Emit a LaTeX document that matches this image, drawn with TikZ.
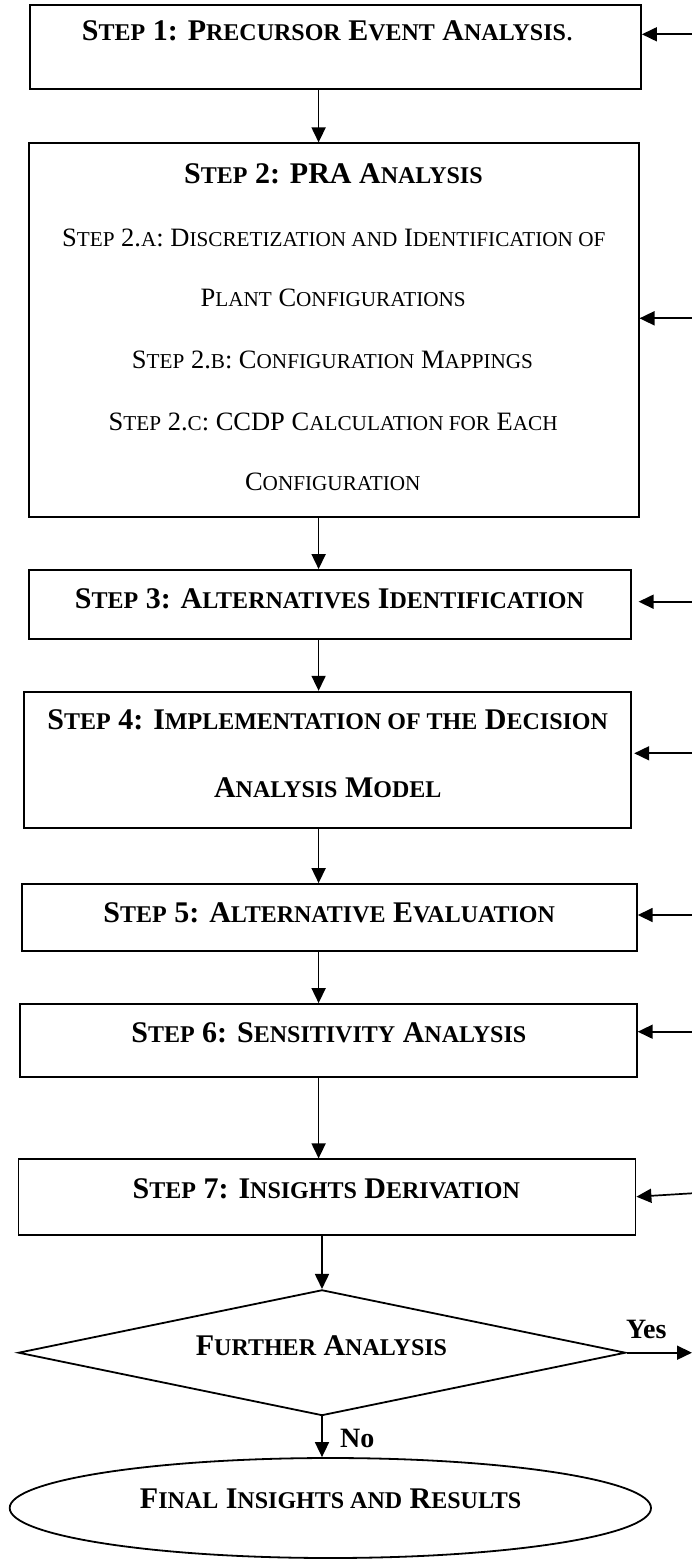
\documentclass[tikz,border=0pt]{standalone}
\usepackage{fontspec}
\setmainfont{Liberation Serif}
\usetikzlibrary{shapes.geometric,arrows.meta}
\newcommand\BF{\fontsize{30}{36}\selectfont\bfseries}
\newcommand\RF{\fontsize{26.5}{32}\selectfont\mdseries}
\newcommand\bs[1]{{\fontsize{24}{28}\selectfont #1}}
\newcommand\rs[1]{{\fontsize{21.2}{26}\selectfont #1}}
\tikzset{
  box/.style={draw, line width=1.8pt, rectangle, inner sep=0pt},
  txt/.style={anchor=base, inner sep=0pt},
  arr/.style={line width=1.7pt, -{Triangle[length=15pt,width=14pt]}},
}
\begin{document}
\begin{tikzpicture}[x=1pt,y=-1pt]
\useasboundingbox (0,0) rectangle (692,1559);
% boxes
\node[box, minimum width=611pt, minimum height=84.3pt] (b1) at (335.5,47.15) {};
\node[box, minimum width=609.9pt, minimum height=373.4pt] (b2) at (333.65,330) {};
\node[box, minimum width=602.3pt, minimum height=69.3pt] (b3) at (329.85,604.65) {};
\node[box, minimum width=606.7pt, minimum height=136pt] (b4) at (327.65,759.7) {};
\node[box, minimum width=614.8pt, minimum height=67.3pt] (b5) at (329.4,917.65) {};
\node[box, minimum width=616.9pt, minimum height=73.3pt] (b6) at (328.35,1040.65) {};
\node[box, minimum width=617pt, minimum height=75.7pt] (b7) at (327,1197.15) {};
\node[draw, line width=1.8pt, shape=diamond, inner sep=0pt, minimum width=607.3pt, minimum height=125.7pt] (d) at (322,1352.7) {};
\node[draw, line width=1.8pt, shape=ellipse, inner sep=0pt, minimum width=641.3pt, minimum height=100pt] (el) at (330.35,1508) {};
% texts
\node[txt] (t1) at (327.7,40.8) {\BF S\bs{TEP} 1: P\bs{RECURSOR} E\bs{VENT} A\bs{NALYSIS}{\mdseries.}};
\node[txt] (t2) at (333.4,183.3) {\BF S\bs{TEP} 2: PRA A\bs{NALYSIS}};
\node[txt] (t2a) at (333.8,246.7) {\RF S\rs{TEP} 2.\rs{A}: D\rs{ISCRETIZATION AND} I\rs{DENTIFICATION OF}};
\node[txt] (t2a2) at (333.2,306.7) {\RF P\rs{LANT} C\rs{ONFIGURATIONS}};
\node[txt] (t2b) at (332.5,368.3) {\RF S\rs{TEP} 2.\rs{B}: C\rs{ONFIGURATION} M\rs{APPINGS}};
\node[txt] (t2c) at (333.2,430) {\RF S\rs{TEP} 2.\rs{C}: CCDP C\rs{ALCULATION FOR} E\rs{ACH}};
\node[txt] (t2c2) at (332.8,490.7) {\RF C\rs{ONFIGURATION}};
\node[txt] (t3) at (329.4,608.3) {\BF S\bs{TEP} 3: A\bs{LTERNATIVES} I\bs{DENTIFICATION}};
\node[txt] (t4) at (327.7,729.3) {\BF S\bs{TEP} 4: I\bs{MPLEMENTATION OF THE} D\bs{ECISION}};
\node[txt] (t4b) at (327.7,797.3) {\BF A\bs{NALYSIS} M\bs{ODEL}};
\node[txt] (t5) at (329.2,922.7) {\BF S\bs{TEP} 5: A\bs{LTERNATIVE} E\bs{VALUATION}};
\node[txt] (t6) at (328.8,1042.3) {\BF S\bs{TEP} 6: S\bs{ENSITIVITY} A\bs{NALYSIS}};
\node[txt] (t7) at (326.3,1198.3) {\BF S\bs{TEP} 7: I\bs{NSIGHTS} D\bs{ERIVATION}};
\node[txt] (td) at (321.5,1355) {\BF F\bs{URTHER} A\bs{NALYSIS}};
\node[txt] (te) at (330.6,1508.3) {\BF F\bs{INAL} I\bs{NSIGHTS AND} R\bs{ESULTS}};
\node[txt, anchor=base west] (yes) at (625.8,1338.3) {\fontsize{28}{32}\selectfont\bfseries Yes};
\node[txt, anchor=base west] (no) at (340,1447.3) {\fontsize{28}{32}\selectfont\bfseries No};
% down arrows
\coordinate (ax) at (318.6,0);
\draw[arr] (ax |- b1.south) -- (ax |- b2.north);
\draw[arr] (ax |- b2.south) -- (ax |- b3.north);
\draw[arr] (ax |- b3.south) -- (ax |- b4.north);
\draw[arr] (ax |- b4.south) -- (ax |- b5.north);
\draw[arr] (ax |- b5.south) -- (ax |- b6.north);
\draw[arr] (ax |- b6.south) -- (ax |- b7.north);
\draw[arr] (d.north |- b7.south) -- (d.north);
\draw[arr] (d.south) -- (d.south |- el.north);
% right side arrows
\coordinate (e1) at (692,34.3);
\coordinate (e2) at (692,318.3);
\coordinate (e3) at (692,601.7);
\coordinate (e4) at (692,753.3);
\coordinate (e5) at (692,915);
\coordinate (e6) at (692,1031.7);
\coordinate (e7) at (692,1193.3);
\coordinate (ey) at (692,1352.7);
\draw[arr] (e1) -- (e1 -| b1.east);
\draw[arr] (e2) -- (e2 -| b2.east);
\draw[arr] (e3) -- ([xshift=6.7pt]e3 -| b3.east);
\draw[arr] (e4) -- ([xshift=2.3pt]e4 -| b4.east);
\draw[arr] (e5) -- (e5 -| b5.east);
\draw[arr] (e6) -- (e6 -| b6.east);
\draw[arr] (e7) -- ([yshift=-3.4pt]e7 -| b7.east);
\draw[arr] (d.east) -- (ey);
\end{tikzpicture}
\end{document}
